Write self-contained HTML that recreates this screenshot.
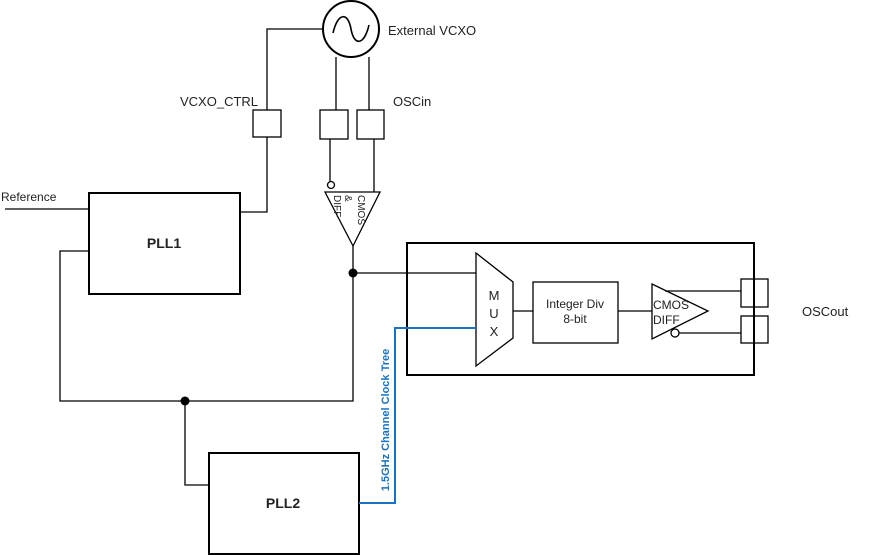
<!DOCTYPE html>
<html><head><style>body{margin:0;background:#fff}svg{display:block}</style></head><body>
<svg width="881" height="555" viewBox="0 0 881 555" xmlns="http://www.w3.org/2000/svg" font-family="Liberation Sans, sans-serif">
<g fill="none" stroke="#000" stroke-width="1.3">
<circle cx="351" cy="29" r="28" stroke-width="2"/>
<path d="M333 33 C338 12 348 12 351 29 C354 46 364 46 369 25" stroke-width="1.6"/>
<path d="M323 29 H267 V110 M267 137 V212 H240"/>
<path d="M336 57 V110 M369 57 V110"/>
<rect x="253" y="110" width="28" height="27"/>
<rect x="320" y="110" width="28" height="29"/>
<rect x="357" y="110" width="27" height="29"/>
<path d="M330 139 V181 M374 139 V192"/>
<circle cx="331" cy="185" r="3.5"/>
<path d="M325 192 H380 L353 246 Z"/>
<path d="M353 246 V401 H60 V251 H89"/>
<path d="M5 209 H89"/>
<path d="M353 273 H476"/>
<path d="M185 401 V485 H209"/>
<rect x="89" y="193" width="151" height="101" stroke-width="2"/>
<rect x="209" y="453" width="150" height="101" stroke-width="2"/>
<rect x="407" y="243" width="347" height="132" stroke-width="2"/>
<path d="M476 253 L513 282 V338 L476 366 Z"/>
<path d="M513 311 H533 M618 311 H652"/>
<rect x="533" y="282" width="85" height="61"/>
<path d="M652 284 L708 311 L652 339 Z"/>
<path d="M665 291 H741 M679 333 H741"/>
<circle cx="675" cy="333" r="4"/>
<rect x="741" y="279" width="27" height="28"/>
<rect x="741" y="316" width="27" height="27"/>
</g>
<circle cx="353" cy="273" r="4.5"/>
<circle cx="185" cy="401" r="4.5"/>
<path d="M359 503 H395 V328 H476" fill="none" stroke="#1a73c2" stroke-width="2"/>
<g font-size="13" fill="#222">
<text x="388" y="35">External VCXO</text>
<text x="180" y="106">VCXO_CTRL</text>
<text x="393" y="106">OSCin</text>
<text x="1" y="201" font-size="12">Reference</text>
<text x="802" y="316">OSCout</text>
<text x="164" y="248" font-weight="bold" font-size="14" text-anchor="middle">PLL1</text>
<text x="283" y="508" font-weight="bold" font-size="14" text-anchor="middle">PLL2</text>
<text x="575" y="308" text-anchor="middle" font-size="12">Integer Div</text>
<text x="575" y="323" text-anchor="middle" font-size="12">8-bit</text>
<text x="494" y="300" text-anchor="middle">M</text>
<text x="494" y="318" text-anchor="middle">U</text>
<text x="494" y="336" text-anchor="middle">X</text>
<text x="653" y="309" font-size="12">CMOS</text>
<text x="653" y="324" font-size="12">DIFF</text>
<g font-size="10">
<text transform="translate(358 195) rotate(90)">CMOS</text>
<text transform="translate(345 195) rotate(90)">&amp;</text>
<text transform="translate(334 195) rotate(90)">DIFF</text>
</g>
<text transform="translate(389 420) rotate(-90)" text-anchor="middle" font-size="11" font-weight="bold" fill="#1a73c2">1.5GHz Channel Clock Tree</text>
</g>
</svg>
</body></html>
